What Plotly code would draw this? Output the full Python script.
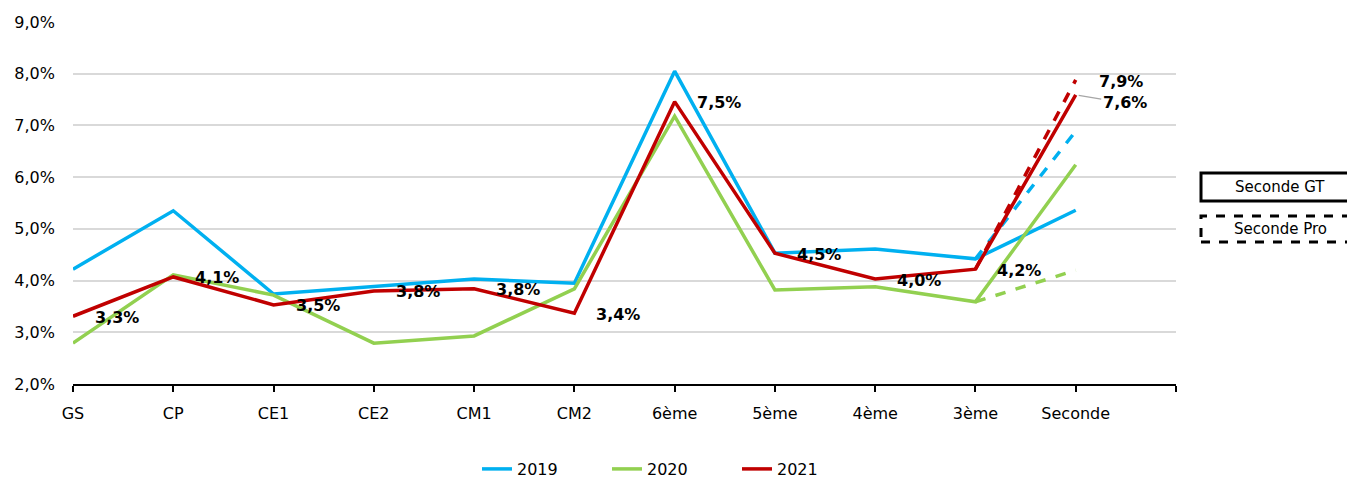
import plotly.graph_objects as go

categories = ["GS", "CP", "CE1", "CE2", "CM1", "CM2", "6ème", "5ème", "4ème", "3ème", "Seconde"]
v2019 = [4.22, 5.35, 3.74, 3.88, 4.03, 3.95, 8.05, 4.53, 4.61, 4.42, 5.36]
v2020 = [2.79, 4.11, 3.72, 2.79, 2.93, 3.84, 7.18, 3.82, 3.88, 3.59, 6.24]
v2021 = [3.31, 4.07, 3.53, 3.80, 3.84, 3.37, 7.46, 4.53, 4.03, 4.22, 7.59]
pro2019 = 6.89
pro2020 = 4.20
pro2021 = 7.88
yticks = [2, 3, 4, 5, 6, 7, 8, 9]

colors = {"2019": "#00B0F0", "2020": "#92D050", "2021": "#C00000"}
FONT = "DejaVu Sans"

xs = list(range(len(categories)))
fig = go.Figure()

series = [("2019", v2019, pro2019), ("2020", v2020, pro2020), ("2021", v2021, pro2021)]
# dashed "Seconde Pro" segments
for name, vals, pro in series:
    fig.add_trace(go.Scatter(
        x=[xs[-2], xs[-1]], y=[vals[-2], pro], mode="lines",
        line=dict(color=colors[name], width=3.5, dash="dash"),
        showlegend=False, hoverinfo="skip"))
for name, vals, pro in series:
    fig.add_trace(go.Scatter(
        x=xs, y=vals, mode="lines", name=name,
        line=dict(color=colors[name], width=3.5)))

def fmt(v):
    return f"{v:.1f}".replace(".", ",") + "%"

LBL = dict(family=FONT, size=16, color="#000000", weight="bold")
annotations = []
for i, v in enumerate(v2021[:-1]):
    annotations.append(dict(x=xs[i], y=v, xref="x", yref="y", text=fmt(v), showarrow=False,
                            xshift=44, yshift=-1, font=LBL))
annotations.append(dict(x=xs[-1], y=pro2021, xref="x", yref="y", text=fmt(pro2021), showarrow=False,
                        xshift=45, yshift=-2, font=LBL))
annotations.append(dict(x=xs[-1], y=v2021[-1], xref="x", yref="y", text=fmt(v2021[-1]), showarrow=True,
                        ax=49, ay=8, arrowhead=0, arrowwidth=1.2, arrowcolor="#A6A6A6", standoff=3,
                        font=LBL))

# page offset (body margin of the html page)
OFF = 8
PL, PR, PT, PB = 73, 1176, 22, 384   # plot area in page pixels
pw = PR - PL
ph = PB - PT
def px_x(p):
    return (p - PL) / pw
def px_y(p):
    return (PB - p) / ph

shapes = [
    dict(type="rect", xref="paper", yref="paper", x0=px_x(1201), x1=px_x(1362),
         y0=px_y(201), y1=px_y(173), line=dict(color="#000000", width=3), fillcolor="white"),
    dict(type="rect", xref="paper", yref="paper", x0=px_x(1201), x1=px_x(1362),
         y0=px_y(242), y1=px_y(216), line=dict(color="#000000", width=3, dash="dash"), fillcolor="white"),
]
annotations.append(dict(x=px_x(1280), y=px_y(187), xref="paper", yref="paper", text="Seconde GT",
                        xanchor="center", yanchor="middle",
                        showarrow=False, font=dict(family=FONT, size=15, color="#000000")))
annotations.append(dict(x=px_x(1280), y=px_y(229), xref="paper", yref="paper", text="Seconde Pro",
                        xanchor="center", yanchor="middle",
                        showarrow=False, font=dict(family=FONT, size=15, color="#000000")))

W, H = 1355 - OFF, 480 - OFF
fig.update_layout(
    width=W, height=H,
    margin=dict(l=PL - OFF, r=1355 - PR, t=PT - OFF, b=480 - PB, autoexpand=False),
    paper_bgcolor="white", plot_bgcolor="white",
    font=dict(family=FONT, size=16, color="#000000"),
    showlegend=True,
    legend=dict(orientation="h", x=px_x(477), xanchor="left", y=-(469 - PB) / ph, yanchor="middle",
                font=dict(family=FONT, size=16, color="#000000"),
                entrywidth=85, entrywidthmode="pixels"),
    annotations=annotations,
    shapes=shapes,
)
fig.update_xaxes(
    range=[0, 11], tickmode="array", tickvals=list(range(12)),
    ticktext=categories + [""], showgrid=False, zeroline=False,
    showline=True, linecolor="#000000", linewidth=1.5,
    ticks="outside", ticklen=6, tickcolor="#000000", tickwidth=1.5,
    ticklabelstandoff=8, automargin=False,
)
fig.update_yaxes(
    range=[2, 9], tickmode="array", tickvals=yticks,
    ticktext=[f"{t},0%" for t in yticks],
    showgrid=True, gridcolor="#D9D9D9", gridwidth=1.5,
    zeroline=False, showline=False, ticks="", ticklabelstandoff=17, automargin=False,
)

fig.write_html("out.html")
